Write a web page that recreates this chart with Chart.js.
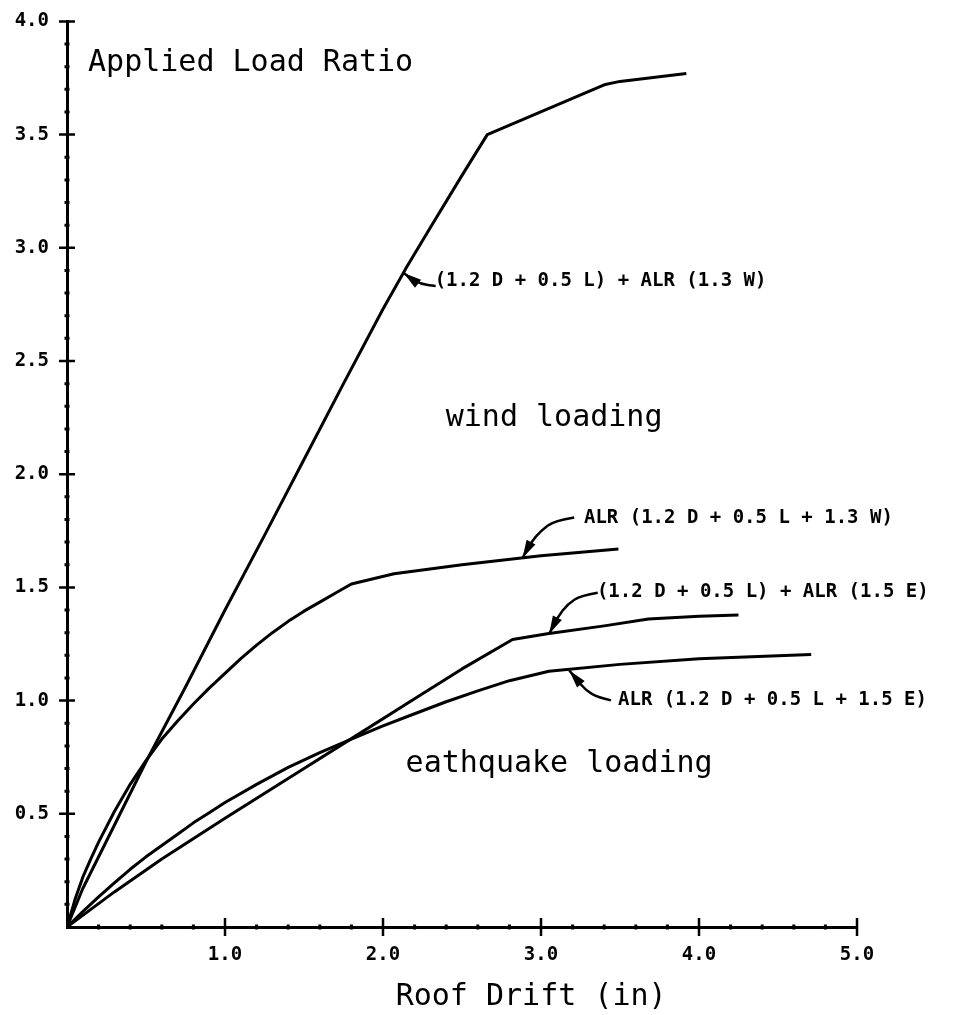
<!DOCTYPE html>
<html>
<head>
<meta charset="utf-8">
<title>Applied Load Ratio vs Roof Drift</title>
<script src="https://cdn.jsdelivr.net/npm/chart.js@4.4.1/dist/chart.umd.min.js"></script>
<style>
  html, body { margin: 0; padding: 0; background: #fff; }
  canvas { display: block; }
</style>
</head>
<body>
<canvas id="driftChart" width="956" height="1015"></canvas>
<script>
// (1.2 D + 0.5 L) + ALR (1.3 W)
const driftWindFactored = [0, 0.1, 0.25, 0.5, 0.75, 1.0, 1.25, 1.5, 1.75, 2.0, 2.15, 2.3, 2.5, 2.66, 3.4, 3.5, 3.92];
const ratioWindFactored = [0, 0.17, 0.38, 0.73, 1.06, 1.40, 1.73, 2.065, 2.40, 2.73, 2.915, 3.09, 3.32, 3.50, 3.72, 3.735, 3.77];

// ALR (1.2 D + 0.5 L + 1.3 W)
const driftWindAlr = [0, 0.05, 0.1, 0.15, 0.2, 0.3, 0.4, 0.5, 0.6, 0.7, 0.8, 0.9, 1.0, 1.1, 1.2,
    1.3, 1.4, 1.5, 1.6, 1.7, 1.8, 2.07, 2.5, 3.0, 3.49];
const ratioWindAlr = [0, 0.12, 0.22, 0.30, 0.375, 0.51, 0.63, 0.735, 0.83, 0.91, 0.985, 1.055, 1.12, 1.185, 1.245,
    1.30, 1.35, 1.395, 1.435, 1.475, 1.515, 1.56, 1.60, 1.64, 1.67];

// (1.2 D + 0.5 L) + ALR (1.5 E)
const driftQuakeFactored = [0, 0.3, 0.6, 1.0, 1.5, 1.75, 2.25, 2.5, 2.82, 3.04, 3.4, 3.68, 4.0, 4.25];
const ratioQuakeFactored = [0, 0.155, 0.30, 0.48, 0.70, 0.81, 1.03, 1.14, 1.27, 1.295, 1.33, 1.36, 1.373, 1.378];

// ALR (1.2 D + 0.5 L + 1.5 E)
const driftQuakeAlr = [0, 0.1, 0.2, 0.3, 0.4, 0.5, 0.6, 0.7, 0.8, 0.9, 1.0, 1.2, 1.4, 1.6, 1.8,
    2.0, 2.2, 2.4, 2.6, 2.8, 3.05, 3.5, 4.0, 4.71];
const ratioQuakeAlr = [0, 0.068, 0.133, 0.195, 0.255, 0.31, 0.36, 0.41, 0.46, 0.505, 0.55, 0.63, 0.705, 0.77, 0.83,
    0.888, 0.942, 0.995, 1.043, 1.088, 1.13, 1.16, 1.185, 1.204];

const xTickValues = [1.0, 2.0, 3.0, 4.0, 5.0];
const yTickValues = [0.5, 1.0, 1.5, 2.0, 2.5, 3.0, 3.5, 4.0];

const curveLabels = [
    '(1.2 D + 0.5 L) + ALR (1.3 W)',
    'ALR (1.2 D + 0.5 L + 1.3 W)',
    '(1.2 D + 0.5 L) + ALR (1.5 E)',
    'ALR (1.2 D + 0.5 L + 1.5 E)'
];

const MONO = '"DejaVu Sans Mono", "Liberation Mono", monospace';
const bigFont = '30px ' + MONO;
const smallFont = 'bold 19px ' + MONO;

// text is placed in data units so it follows the scales
const plotNotes = [
    { text: 'Applied Load Ratio', x: 0.133, y: 3.779, font: bigFont, baseline: 'alphabetic' },
    { text: 'wind loading', x: 2.397, y: 2.213, font: bigFont, baseline: 'alphabetic' },
    { text: 'eathquake loading', x: 2.143, y: 0.685, font: bigFont, baseline: 'alphabetic' },
    { text: 'Roof Drift (in)', x: 2.08, y: -0.344, font: bigFont, baseline: 'alphabetic' },
    { text: curveLabels[0], x: 2.327, y: 2.853, font: smallFont, baseline: 'middle' },
    { text: curveLabels[1], x: 3.272, y: 1.806, font: smallFont, baseline: 'middle' },
    { text: curveLabels[2], x: 3.354, y: 1.479, font: smallFont, baseline: 'middle' },
    { text: curveLabels[3], x: 3.488, y: 1.001, font: smallFont, baseline: 'middle' }
];

// leader paths from each label to its curve, last point is the arrow tip
const leaderPaths = [
    [[2.333, 2.831], [2.227, 2.838], [2.131, 2.889]],
    [[3.210, 1.809], [3.084, 1.795], [2.999, 1.750], [2.936, 1.699], [2.883, 1.630]],
    [[3.359, 1.476], [3.253, 1.464], [3.169, 1.427], [3.105, 1.368], [3.052, 1.295]],
    [[3.443, 1.001], [3.359, 1.015], [3.285, 1.045], [3.232, 1.089], [3.179, 1.133]]
];

function toPoints(xs, ys) {
    return xs.map((x, i) => ({ x: x, y: ys[i] }));
}

function makeSeries(label, xs, ys) {
    return {
        label: label,
        data: toPoints(xs, ys),
        showLine: true,
        borderColor: '#000',
        borderWidth: 3,
        borderJoinStyle: 'round',
        pointRadius: 0,
        tension: 0,
        fill: false
    };
}

function drawLeader(ctx, pts) {
    ctx.beginPath();
    ctx.moveTo(pts[0][0], pts[0][1]);
    for (let i = 1; i < pts.length - 1; i++) {
        const mx = (pts[i][0] + pts[i + 1][0]) / 2;
        const my = (pts[i][1] + pts[i + 1][1]) / 2;
        ctx.quadraticCurveTo(pts[i][0], pts[i][1], mx, my);
    }
    const tip = pts[pts.length - 1];
    const prev = pts[pts.length - 2];
    ctx.lineTo(tip[0], tip[1]);
    ctx.stroke();

    const ang = Math.atan2(tip[1] - prev[1], tip[0] - prev[0]);
    const len = 18, half = 5;
    const c = Math.cos(ang), s = Math.sin(ang);
    ctx.beginPath();
    ctx.moveTo(tip[0], tip[1]);
    ctx.lineTo(tip[0] - len * c + half * s, tip[1] - len * s - half * c);
    ctx.lineTo(tip[0] - len * c - half * s, tip[1] - len * s + half * c);
    ctx.closePath();
    ctx.fill();
}

const axisDecor = {
    id: 'axisDecor',
    afterDraw(chart) {
        const ctx = chart.ctx;
        const xs = chart.scales.x;
        const ys = chart.scales.y;
        const area = chart.chartArea;

        ctx.save();
        ctx.strokeStyle = '#000';
        ctx.fillStyle = '#000';
        ctx.lineCap = 'butt';

        // major ticks cross the axis lines
        ctx.lineWidth = 2.5;
        ctx.beginPath();
        yTickValues.forEach(v => {
            const py = ys.getPixelForValue(v);
            ctx.moveTo(area.left - 8, py);
            ctx.lineTo(area.left + 8, py);
        });
        xTickValues.forEach(v => {
            const px = xs.getPixelForValue(v);
            ctx.moveTo(px, area.bottom - 9);
            ctx.lineTo(px, area.bottom + 9);
        });
        ctx.stroke();

        // minor ticks: 0.1 on the load axis, 0.2 on the drift axis
        ctx.lineWidth = 3;
        ctx.beginPath();
        for (let i = 1; i < 40; i++) {
            if (i % 5 === 0) continue;
            const py = ys.getPixelForValue(i / 10);
            ctx.moveTo(area.left - 2.5, py);
            ctx.lineTo(area.left + 2.5, py);
        }
        for (let i = 1; i < 25; i++) {
            if (i % 5 === 0) continue;
            const px = xs.getPixelForValue(i / 5);
            ctx.moveTo(px, area.bottom - 2.5);
            ctx.lineTo(px, area.bottom + 2.5);
        }
        ctx.stroke();

        // labels
        ctx.textAlign = 'left';
        plotNotes.forEach(n => {
            ctx.font = n.font;
            ctx.textBaseline = n.baseline;
            ctx.fillText(n.text, xs.getPixelForValue(n.x), ys.getPixelForValue(n.y));
        });

        // arrows
        ctx.lineWidth = 2.5;
        leaderPaths.forEach(path => {
            const pts = path.map(p => [xs.getPixelForValue(p[0]), ys.getPixelForValue(p[1])]);
            drawLeader(ctx, pts);
        });

        ctx.restore();
    }
};

const tickFont = { family: '"DejaVu Sans Mono", "Liberation Mono", monospace', size: 19, weight: 'bold' };

new Chart(document.getElementById('driftChart'), {
    type: 'scatter',
    data: {
        datasets: [
            makeSeries(curveLabels[0], driftWindFactored, ratioWindFactored),
            makeSeries(curveLabels[1], driftWindAlr, ratioWindAlr),
            makeSeries(curveLabels[2], driftQuakeFactored, ratioQuakeFactored),
            makeSeries(curveLabels[3], driftQuakeAlr, ratioQuakeAlr)
        ]
    },
    options: {
        responsive: false,
        animation: false,
        layout: { padding: { top: 19, right: 99, left: 0, bottom: 0 } },
        plugins: {
            legend: { display: false },
            tooltip: { enabled: false }
        },
        scales: {
            x: {
                type: 'linear',
                min: 0,
                max: 5,
                grid: { display: false },
                border: { display: true, color: '#000', width: 3 },
                afterBuildTicks: s => { s.ticks = xTickValues.map(v => ({ value: v })); },
                afterFit: s => { s.height = 88; },
                ticks: {
                    color: '#000',
                    font: tickFont,
                    padding: 9,
                    maxRotation: 0,
                    autoSkip: false,
                    callback: v => v.toFixed(1)
                }
            },
            y: {
                type: 'linear',
                min: 0,
                max: 4,
                grid: { display: false },
                border: { display: true, color: '#000', width: 3 },
                afterBuildTicks: s => { s.ticks = yTickValues.map(v => ({ value: v })); },
                afterFit: s => { s.width = 67; },
                ticks: {
                    color: '#000',
                    font: tickFont,
                    padding: 10,
                    autoSkip: false,
                    callback: v => v.toFixed(1)
                }
            }
        }
    },
    plugins: [axisDecor]
});
</script>
</body>
</html>
